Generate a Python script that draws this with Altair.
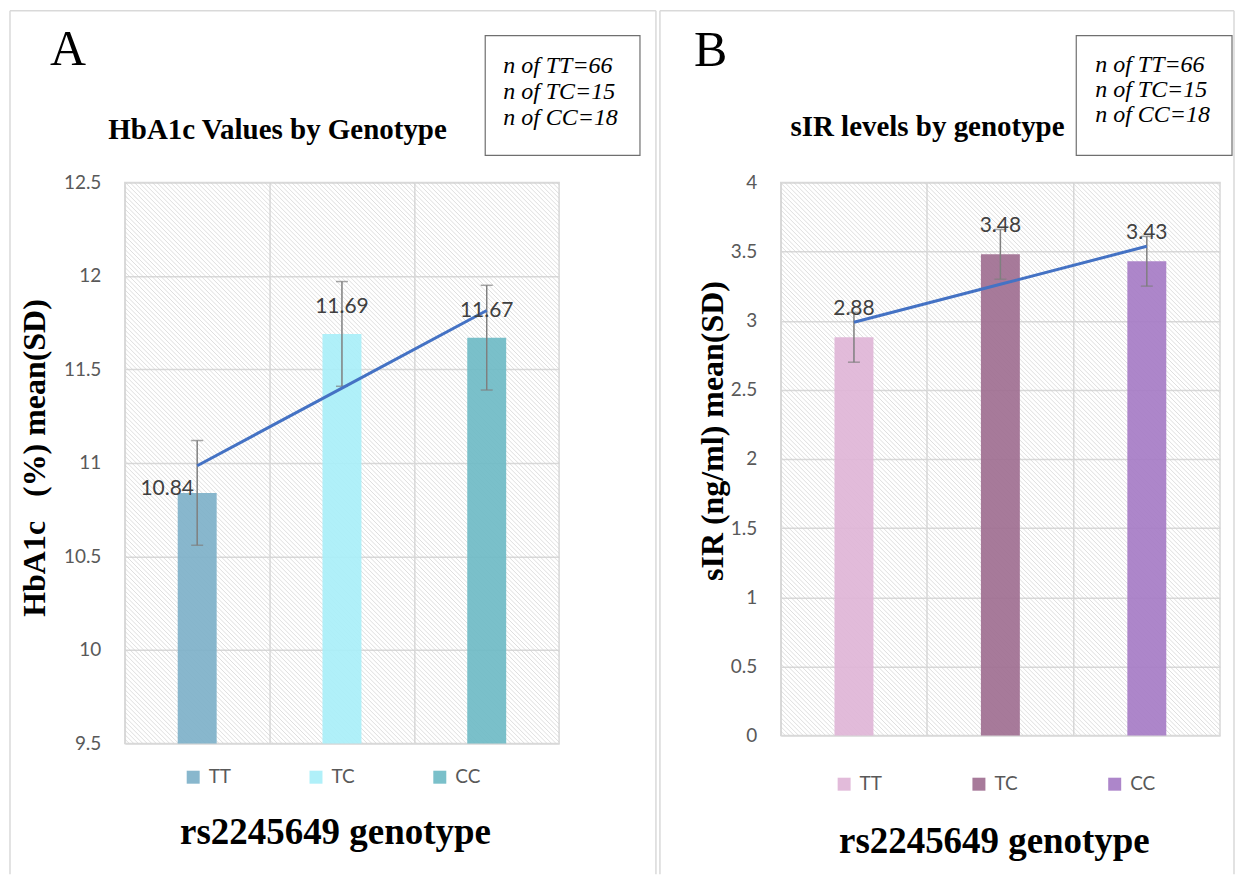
import altair as alt
import pandas as pd
import numpy as np

# ---------------- data ----------------
genotypes = ["TT", "TC", "CC"]
n_counts = [66, 15, 18]

hba1c_mean = [10.84, 11.69, 11.67]
hba1c_sd = [0.28, 0.28, 0.28]
hba1c_colors = ["#7EB1C9", "#A9EFF9", "#6FBBC5"]
hba1c_ticks = [9.5, 10, 10.5, 11, 11.5, 12, 12.5]

sir_mean = [2.88, 3.48, 3.43]
sir_sd = [0.18, 0.18, 0.18]
sir_colors = ["#E0B5D7", "#A06F91", "#A67CC6"]
sir_ticks = [0, 0.5, 1, 1.5, 2, 2.5, 3, 3.5, 4]

SERIF = "Liberation Serif"
SANS = "Lato"
GRID = "#d9d9d9"
FRAME = "#d9d9d9"
NB = "\u00a0"

n_text = [f"n of {g}={n}" for g, n in zip(genotypes, n_counts)]


def one():
    return alt.Chart(pd.DataFrame({"k": [0]}))


def panel(means, sds, colors, ticks, letter, title, ytitle, W, H, g):
    idx = np.arange(1, len(means) + 1)
    coef = np.polyfit(idx, means, 1)
    trend = np.polyval(coef, idx)
    df = pd.DataFrame({"genotype": genotypes, "mean": means, "sd": sds, "trend": trend})
    ymin, ymax = ticks[0], ticks[-1]
    base = alt.Chart(df)

    x = alt.X("genotype:N", sort=genotypes,
              scale=alt.Scale(domain=genotypes, paddingInner=0, paddingOuter=0),
              axis=alt.Axis(labels=False, ticks=False, domain=False, title=None,
                            grid=True, bandPosition=0, gridColor=GRID, gridWidth=1.5))
    yscale = alt.Scale(domain=[ymin, ymax], nice=False, zero=False)
    y_main = alt.Y("mean:Q", scale=yscale, title=None,
                   axis=alt.Axis(values=ticks, format="~g", domain=False, ticks=False,
                                 tickSize=0, labelPadding=24, labelFont=SANS,
                                 labelFontSize=19, labelColor="#595959",
                                 gridColor=GRID, gridWidth=1.5))

    hatch = alt.Chart(alt.sequence(-H, W, 4.5, as_="a")).transform_calculate(
        a2=f"datum.a + {H}"
    ).mark_rule(clip=True, stroke="#cfcfcf", strokeWidth=0.7).encode(
        x=alt.X("a:Q", scale=alt.Scale(domain=[0, W], nice=False, zero=False), axis=None),
        x2="a2:Q",
        y=alt.value(0),
        y2=alt.value(H),
    )

    bars = base.mark_bar(width=39, opacity=0.92).encode(
        x=x, y=y_main, y2=alt.datum(ymin),
        color=alt.Color("genotype:N", sort=genotypes,
                        scale=alt.Scale(domain=genotypes, range=colors),
                        legend=alt.Legend(title=None, orient="none",
                                          legendX=g["legX"], legendY=g["legY"],
                                          direction="horizontal", symbolType="square",
                                          symbolSize=169, symbolStrokeWidth=0,
                                          labelFont=SANS, labelFontSize=19,
                                          labelColor="#595959", labelOffset=6,
                                          columnPadding=g["colPad"], padding=0)),
    )

    err = base.transform_calculate(lo="datum.mean - datum.sd", hi="datum.mean + datum.sd")
    erule = err.mark_rule(color="#7f7f7f", strokeWidth=1.5).encode(
        x=x, y=alt.Y("lo:Q", scale=yscale, title=None), y2="hi:Q")
    cap_lo = err.mark_tick(color="#7f7f7f", thickness=1.5, size=12).encode(
        x=x, y=alt.Y("lo:Q", scale=yscale, title=None))
    cap_hi = err.mark_tick(color="#7f7f7f", thickness=1.5, size=12).encode(
        x=x, y=alt.Y("hi:Q", scale=yscale, title=None))

    line = base.mark_line(color="#4472C4", strokeWidth=3).encode(
        x=x, y=alt.Y("trend:Q", scale=yscale, title=None))

    labels = []
    for gt in genotypes:
        dx, dy = g["lab"][gt]
        labels.append(
            base.transform_filter(alt.datum.genotype == gt).mark_text(
                font=SANS, fontSize=21, color="#404040", dx=dx, dy=dy, baseline="middle"
            ).encode(x=x, y=alt.Y("mean:Q", scale=yscale, title=None),
                     text=alt.Text("mean:Q", format=".2f"))
        )

    data_layer = alt.layer(bars, erule, cap_lo, cap_hi, line, *labels)

    # decorations
    fx0, fx1, fy0, fy1 = g["frame"]
    frame_l = one().mark_rule(color=FRAME, strokeWidth=1.5).encode(
        x=alt.value(fx0), y=alt.value(fy0), y2=alt.value(fy1))
    frame_r = one().mark_rule(color=FRAME, strokeWidth=1.5).encode(
        x=alt.value(fx1), y=alt.value(fy0), y2=alt.value(fy1))
    frame_t = one().mark_rule(color=FRAME, strokeWidth=1.5).encode(
        x=alt.value(fx0), x2=alt.value(fx1), y=alt.value(fy0))

    bx0, bx1, by0, by1 = g["box"]
    box = one().mark_rect(fill="white", stroke="#6f6f6f", strokeWidth=1.2).encode(
        x=alt.value(bx0), x2=alt.value(bx1), y=alt.value(by0), y2=alt.value(by1))
    box_txt = one().mark_text(font=SERIF, fontStyle="italic", fontSize=24, align="left",
                              baseline="middle", lineHeight=g["boxLH"], color="black").encode(
        x=alt.value(g["boxText"][0]), y=alt.value(g["boxText"][1]), text=alt.value(n_text))

    lx, ly = g["letter"]
    letter_txt = one().mark_text(font=SERIF, fontSize=50, align="left",
                                 baseline="alphabetic", color="black").encode(
        x=alt.value(lx), y=alt.value(ly), text=alt.value(letter))

    tx, ty = g["title"]
    title_txt = one().mark_text(font=SERIF, fontWeight="bold", fontSize=29, align="center",
                                baseline="middle", color="black").encode(
        x=alt.value(tx), y=alt.value(ty), text=alt.value(title))

    yx, yy = g["ytitle"]
    ytitle_txt = one().mark_text(font=SERIF, fontWeight="bold", fontSize=32, align="center",
                                 baseline="middle", angle=270, color="black").encode(
        x=alt.value(yx), y=alt.value(yy), text=alt.value(ytitle))

    xx, xy = g["xtitle"]
    xtitle_txt = one().mark_text(font=SERIF, fontWeight="bold", fontSize=37, align="center",
                                 baseline="alphabetic", color="black").encode(
        x=alt.value(xx), y=alt.value(xy), text=alt.value("rs2245649 genotype"))

    return alt.layer(
        hatch, data_layer,
        frame_l, frame_r, frame_t, box, box_txt, letter_txt,
        title_txt, ytitle_txt, xtitle_txt
    ).resolve_scale(x="independent").properties(width=W, height=H)


geoA = {
    "legX": 59, "legY": 586, "colPad": 75,
    "lab": {"TT": (-30, -4), "TC": (0, -27), "CC": (0, -27)},
    "frame": (-115, 532, -172, 693),
    "box": (361, 516, -147, -27),
    "boxText": (379, -117), "boxLH": 26,
    "letter": (-75, -118),
    "title": (153, -52),
    "ytitle": (-90, 276),
    "xtitle": (211, 663),
}
geoB = {
    "legX": 54, "legY": 593, "colPad": 87,
    "lab": {"TT": (0, -28), "TC": (0, -28), "CC": (0, -28)},
    "frame": (-121, 454, -172, 693),
    "box": (296, 452, -147, -27),
    "boxText": (315, -118), "boxLH": 25,
    "letter": (-87, -117),
    "title": (147, -55),
    "ytitle": (-68, 249),
    "xtitle": (214, 672),
}

chartA = panel(hba1c_mean, hba1c_sd, hba1c_colors, hba1c_ticks, "A",
               "HbA1c Values by Genotype", f"HbA1c{NB}{NB} (%) mean(SD)", 435, 562, geoA)
chartB = panel(sir_mean, sir_sd, sir_colors, sir_ticks, "B",
               "sIR levels by genotype", "sIR (ng/ml) mean(SD)", 440, 554, geoB)

chart = alt.hconcat(chartA, chartB, spacing=222, bounds="flush").resolve_scale(
    color="independent", x="independent", y="independent"
).resolve_legend(color="independent").properties(
    padding=0, background="white"
).configure_view(stroke=GRID, strokeWidth=1.5)

chart.save("out.html", embed_options={"renderer": "svg", "actions": False})
